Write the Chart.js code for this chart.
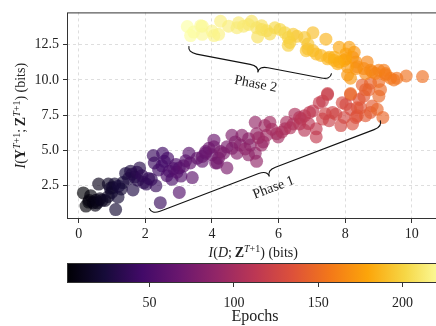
<!DOCTYPE html>
<html>
<head>
<meta charset="utf-8">
<script src="https://cdn.jsdelivr.net/npm/chart.js@4.4.1/dist/chart.umd.min.js"></script>
<style>
  html, body { margin: 0; padding: 0; background: #fff; overflow: hidden; }
  #wrap { position: relative; width: 446px; height: 326px; }
  #main { position: absolute; left: 0; top: 0; }
  #cbar { position: absolute; left: 0; top: 255px; }
</style>
</head>
<body>
<div id="wrap">
  <canvas id="main" width="446" height="262"></canvas>
  <canvas id="cbar" width="446" height="71"></canvas>
</div>
<script>
const FONT = '"Liberation Serif", "DejaVu Serif", serif';

// one point per epoch, in epoch order: [I(D;Z), I(Y;Z)]
const phase1 = [
  [0.14,1.97],[0.22,1.04],[0.30,1.32],[0.36,1.78],[0.32,1.44],[0.44,1.28],[0.50,1.10],[0.52,1.45],[0.56,1.28],[0.64,1.55],
  [0.60,2.60],[0.70,1.45],[0.79,1.44],[0.89,1.72],[0.89,2.60],[0.99,2.01],[0.95,2.30],[1.02,2.35],[1.08,2.60],[1.11,0.79],
  [1.18,1.67],[1.28,2.25],[1.33,2.71],[1.20,2.45],[1.41,3.36],[1.50,3.00],[1.56,3.52],[1.63,2.18],[1.68,3.10],[1.60,3.30],
  [1.78,2.88],[1.83,3.75],[1.75,3.45],[1.95,2.71],[2.03,2.60],[1.90,3.20],[2.10,3.00],[2.18,2.94],[2.32,2.48],[2.45,1.28],
  [2.24,4.63],[2.27,4.10],[2.40,3.60],[2.52,4.79],[2.57,4.22],[2.50,3.90],[2.67,4.44],[2.72,3.52],[2.80,2.94],[2.65,3.20],
  [2.92,3.99],[2.85,3.70],[3.02,3.75],[3.07,3.17],[3.02,2.01],[2.95,3.45],[3.21,4.26],[3.31,4.79],[3.15,3.90],[3.41,3.06],
  [3.35,4.10],[3.56,4.44],
  [3.71,4.22],[3.81,4.79],[3.71,4.56],[3.91,5.14],[3.81,4.91],[4.06,5.72],[4.00,4.68],[4.11,4.10],[4.06,5.25],[4.16,4.10],
  [4.20,4.44],[4.26,4.91],[4.45,5.25],[4.45,3.75],[4.35,4.80],[4.60,5.14],[4.60,6.07],[4.70,5.60],[4.75,4.79],[4.85,5.37],
  [4.90,6.07],[5.10,5.83],[5.15,5.37],[5.10,4.68],[5.00,5.10],[5.30,4.79],[5.34,4.22],[5.30,6.99],[5.34,6.18],[5.49,5.37],
  [5.54,5.60],[5.40,5.90],[5.59,6.76],[5.64,6.07],
  [5.74,6.99],[5.94,6.18],[5.99,5.95],[5.80,6.50],[6.19,6.53],[6.24,6.99],[6.10,6.30],[6.49,7.57],[6.44,6.87],[6.35,6.60],
  [6.63,7.34],[6.63,6.87],[6.78,7.46],[6.78,6.42],[6.68,7.22],[6.90,6.90],[6.93,7.69],[7.03,7.80],[7.13,6.53],[7.13,5.95],
  [7.22,8.38],[7.32,8.50],[7.47,8.96],[7.47,9.03],[7.32,7.22],[7.52,7.11],[7.40,7.60],[7.62,7.69],[7.72,7.57],
  [7.87,6.76],[7.97,7.34],[7.91,8.38],[8.02,8.26],[8.16,7.92],[8.16,8.96],[8.22,6.87],[8.32,7.34],[8.36,8.03],[8.36,7.46],
  [8.42,8.61],[8.46,8.03],[8.56,8.85],[8.61,7.46],[8.76,7.69],[8.81,8.15],[8.61,9.31],[8.51,9.65],[8.71,9.31],[8.76,9.77],
  [8.96,7.92],[9.13,7.34],[9.01,8.85],[9.06,9.31],[9.01,9.89],[8.16,9.03]
];
const phase2 = [
  [10.32,10.24],[9.83,10.28],[9.55,10.12],[9.46,10.00],[9.36,10.12],[9.21,10.46],[9.21,10.35],[9.16,10.69],[9.01,10.69],[8.91,10.46],
  [8.81,10.58],[8.76,10.69],[8.66,11.28],[8.61,10.46],[8.56,10.81],[8.36,10.93],[8.32,11.28],[8.32,10.81],[8.22,11.62],[8.27,11.97],
  [8.16,10.12],[8.07,10.35],[8.07,10.93],[8.02,11.85],[8.12,12.32],[8.02,11.51],[7.97,11.39],[7.82,12.32],[7.82,11.28],[7.77,11.16],
  [7.67,11.62],[7.67,11.39],[7.52,11.62],[7.47,11.50],[7.42,12.90],[7.27,11.74],[7.13,11.85],[7.03,12.08],[7.03,13.36],[6.88,12.20],
  [6.83,12.08],[6.88,12.55],[6.78,13.01],[6.55,13.10],[6.44,13.24],[6.34,12.67],[6.29,12.46],[6.29,13.01],[6.19,13.36],[6.04,13.59],
  [5.89,13.71],[5.74,13.27],[5.64,13.50],[5.49,13.59],[5.49,13.85],[5.37,13.06],[5.34,13.71],[5.19,14.17],[5.10,13.94],[4.95,13.82],
  [4.80,14.06],[4.75,13.71],[4.50,13.82],[4.26,14.17],[4.20,13.24],[4.06,13.15],[4.00,13.47],[3.71,13.82],[3.71,13.24],[3.66,13.85],
  [3.45,13.40],[3.36,13.15],[3.26,13.80]
];

const xTicks = [0, 2, 4, 6, 8, 10];
const yTicks = [2.5, 5, 7.5, 10, 12.5];
const epochTicks = [50, 100, 150, 200];
const xRange = [-0.35, 10.83];
const yRange = [0.12, 14.8];
const epochRange = [1, 224];

// curly braces, ends given in data units
const braces = [
  { from: [2.12, 0.88], to: [9.05, 7.13], label: 'Phase 1' },
  { from: [3.31, 12.41], to: [7.59, 10.47], label: 'Phase 2' }
];

const inferno = ['#000004','#160b39','#420a68','#6a176e','#932667','#bc3754',
                 '#dd513a','#f37819','#fca50a','#f6d746','#fcffa4'];

function hexRgb(h) {
  return [parseInt(h.slice(1,3),16), parseInt(h.slice(3,5),16), parseInt(h.slice(5,7),16)];
}
function infernoAt(t, alpha) {
  t = Math.min(1, Math.max(0, t));
  const p = t * (inferno.length - 1);
  const i = Math.min(Math.floor(p), inferno.length - 2);
  const f = p - i;
  const a = hexRgb(inferno[i]), b = hexRgb(inferno[i + 1]);
  const c = a.map((v, k) => Math.round(v + (b[k] - v) * f));
  return 'rgba(' + c[0] + ',' + c[1] + ',' + c[2] + ',' + alpha + ')';
}
const norm = e => (e - epochRange[0]) / (epochRange[1] - epochRange[0]);

const points = phase1.concat(phase2).map((p, i) => ({ x: p[0], y: p[1], epoch: i + 1 }));

function partFont(p, size) {
  const s = p.sup ? Math.round(size * 0.7) : size;
  return (p.i ? 'italic ' : '') + (p.b ? 'bold ' : '') + s + 'px ' + FONT;
}
function drawRich(ctx, parts, size) {
  let w = 0;
  parts.forEach(p => { ctx.font = partFont(p, size); p.w = ctx.measureText(p.t).width; w += p.w; });
  let x = -w / 2;
  ctx.textBaseline = 'alphabetic';
  ctx.textAlign = 'left';
  parts.forEach(p => {
    ctx.font = partFont(p, size);
    ctx.fillText(p.t, x, p.sup ? -size * 0.38 : 0);
    x += p.w;
  });
}

const xTitle = [{t:'I',i:1},{t:'('},{t:'D',i:1},{t:';\u2009'},{t:'Z',b:1},{t:'T',i:1,sup:1},{t:'+1',sup:1},{t:') (bits)'}];
const yTitle = [{t:'I',i:1},{t:'('},{t:'Y',b:1},{t:'T',i:1,sup:1},{t:'+1',sup:1},{t:';\u2009'},
                {t:'Z',b:1},{t:'T',i:1,sup:1},{t:'+1',sup:1},{t:') (bits)'}];

function drawBrace(ctx, A, B, d) {
  const dx = B[0] - A[0], dy = B[1] - A[1], L = Math.hypot(dx, dy);
  const ux = dx / L, uy = dy / L, nx = -uy, ny = ux;
  const h = d / 2, q = Math.min(9, L / 6);
  const P = (o, s, t) => [o[0] + ux * s + nx * t, o[1] + uy * s + ny * t];
  const M = [(A[0] + B[0]) / 2, (A[1] + B[1]) / 2];
  let c, e;
  ctx.beginPath();
  ctx.moveTo(A[0], A[1]);
  c = P(A, 0, h); e = P(A, q, h); ctx.quadraticCurveTo(c[0], c[1], e[0], e[1]);
  e = P(M, -q, h); ctx.lineTo(e[0], e[1]);
  c = P(M, 0, h); e = P(M, 0, d); ctx.quadraticCurveTo(c[0], c[1], e[0], e[1]);
  e = P(M, q, h); ctx.quadraticCurveTo(c[0], c[1], e[0], e[1]);
  e = P(B, -q, h); ctx.lineTo(e[0], e[1]);
  c = P(B, 0, h); ctx.quadraticCurveTo(c[0], c[1], B[0], B[1]);
  ctx.stroke();
  return { tip: P(M, 0, d), angle: Math.atan2(uy, ux), nx: nx, ny: ny };
}

const decorPlugin = {
  id: 'decor',
  afterDraw(chart) {
    const ctx = chart.ctx, area = chart.chartArea;
    const sx = chart.scales.x, sy = chart.scales.y;
    ctx.save();
    // frame
    ctx.strokeStyle = '#333';
    ctx.lineWidth = 1;
    ctx.strokeRect(area.left + 0.5, area.top + 0.5, area.right - area.left - 1, area.bottom - area.top - 1);
    // braces
    ctx.strokeStyle = '#111';
    ctx.lineWidth = 1.1;
    ctx.fillStyle = '#222';
    braces.forEach(b => {
      const A = [sx.getPixelForValue(b.from[0]), sy.getPixelForValue(b.from[1])];
      const B = [sx.getPixelForValue(b.to[0]), sy.getPixelForValue(b.to[1])];
      const r = drawBrace(ctx, A, B, 13);
      ctx.save();
      ctx.translate(r.tip[0] + r.nx * 12, r.tip[1] + r.ny * 12);
      ctx.rotate(r.angle);
      ctx.font = '14px ' + FONT;
      ctx.textAlign = 'center';
      ctx.textBaseline = 'middle';
      ctx.fillText(b.label, 0, 0);
      ctx.restore();
    });
    // axis titles
    ctx.fillStyle = '#222';
    ctx.save();
    ctx.translate((area.left + area.right) / 2, 257);
    drawRich(ctx, xTitle, 14);
    ctx.restore();
    ctx.save();
    ctx.translate(25, (area.top + area.bottom) / 2);
    ctx.rotate(-Math.PI / 2);
    drawRich(ctx, yTitle, 14);
    ctx.restore();
    ctx.restore();
  }
};

const gridOpts = { color: '#d6d6d6', lineWidth: 0.8, tickColor: '#333', tickLength: 4, tickWidth: 1, tickBorderDash: [] };
const tickFont = { family: FONT, size: 14 };

new Chart(document.getElementById('main'), {
  type: 'scatter',
  data: {
    datasets: [{
      data: points,
      pointRadius: 6.5,
      pointHoverRadius: 6.5,
      borderWidth: 0,
      backgroundColor: c => infernoAt(norm(c.raw ? c.raw.epoch : 1), 0.65)
    }]
  },
  options: {
    responsive: false,
    animation: false,
    layout: { padding: { top: 8, right: 3, left: 0, bottom: 0 } },
    plugins: { legend: { display: false }, tooltip: { enabled: false } },
    scales: {
      x: {
        type: 'linear', min: xRange[0], max: xRange[1],
        afterBuildTicks: s => { s.ticks = xTicks.map(v => ({ value: v })); },
        afterFit: s => { s.height = 43; },
        grid: gridOpts,
        border: { display: false, dash: [3, 3] },
        ticks: { color: '#222', font: tickFont, padding: 3, maxRotation: 0, callback: v => String(v) }
      },
      y: {
        type: 'linear', min: yRange[0], max: yRange[1],
        afterBuildTicks: s => { s.ticks = yTicks.map(v => ({ value: v })); },
        afterFit: s => { s.width = 67; },
        grid: gridOpts,
        border: { display: false, dash: [3, 3] },
        ticks: { color: '#222', font: tickFont, padding: 4, callback: v => v.toFixed(1) }
      }
    }
  },
  plugins: [decorPlugin]
});

const gradientPlugin = {
  id: 'gradient',
  beforeDatasetsDraw(chart) {
    const ctx = chart.ctx, a = chart.chartArea;
    const g = ctx.createLinearGradient(a.left, 0, a.right, 0);
    inferno.forEach((c, i) => g.addColorStop(i / (inferno.length - 1), c));
    ctx.save();
    ctx.fillStyle = g;
    ctx.fillRect(a.left, a.top, a.right - a.left, a.bottom - a.top);
    ctx.strokeStyle = '#333';
    ctx.lineWidth = 1;
    ctx.strokeRect(a.left + 0.5, a.top + 0.5, a.right - a.left - 1, a.bottom - a.top - 1);
    ctx.restore();
  }
};

new Chart(document.getElementById('cbar'), {
  type: 'scatter',
  data: { datasets: [] },
  options: {
    responsive: false,
    animation: false,
    layout: { padding: { top: 8, right: 3, left: 67, bottom: 0 } },
    plugins: { legend: { display: false }, tooltip: { enabled: false } },
    scales: {
      x: {
        type: 'linear', min: epochRange[0], max: epochRange[1],
        afterBuildTicks: s => { s.ticks = epochTicks.map(v => ({ value: v })); },
        afterFit: s => { s.height = 43; },
        grid: { drawOnChartArea: false, tickColor: '#333', tickLength: 4, tickWidth: 1 },
        border: { display: false },
        ticks: { color: '#222', font: tickFont, padding: 8, maxRotation: 0 },
        title: { display: true, text: 'Epochs', color: '#222', font: { family: FONT, size: 16 }, padding: { top: 0, bottom: 0 } }
      },
      y: { display: false, min: 0, max: 1 }
    }
  },
  plugins: [gradientPlugin]
});
</script>
</body>
</html>
